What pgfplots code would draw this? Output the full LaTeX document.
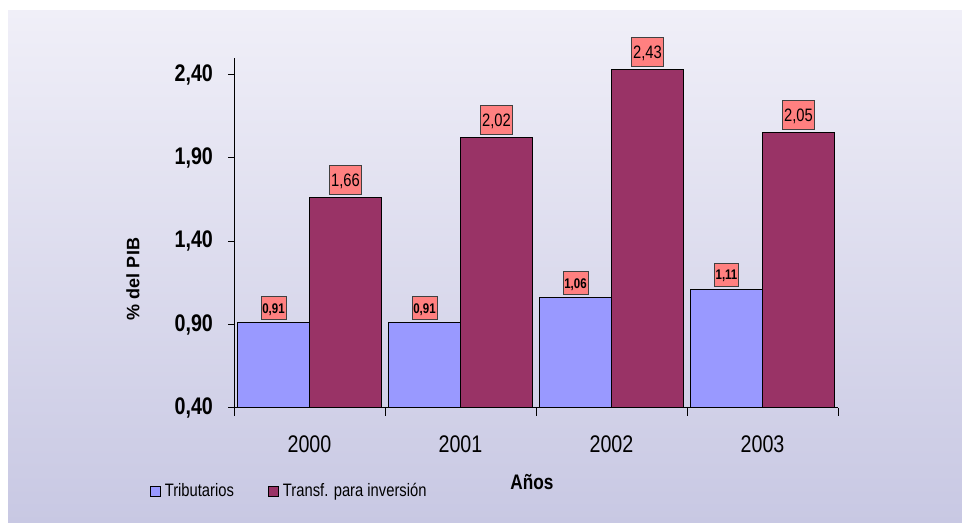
\documentclass[border=0pt]{standalone}
\usepackage{fontspec}
\setmainfont{Liberation Sans}
\newfontfamily\narrow{Liberation Sans}[FakeStretch=0.82]
\usepackage{pgfplots}
\pgfplotsset{compat=1.18}
\definecolor{tribcol}{HTML}{9999FF}
\definecolor{transcol}{HTML}{993366}
\definecolor{boxcol}{HTML}{FF8080}
\definecolor{bgtop}{HTML}{F0EFF8}
\definecolor{bgbot}{HTML}{C8C8E3}
\pgfplotsset{sqlegend/.style={legend image code/.code={\draw[##1] (0pt,-2.5pt) rectangle (5pt,2.5pt);}}}

\begin{document}
\begin{tikzpicture}
% background
\fill[white] (0,0) rectangle (481pt,261.5pt);
\shade[top color=bgtop, bottom color=bgbot] (4pt,0) rectangle (481pt,256pt);
\path[use as bounding box] (0,0) rectangle (481pt,261.5pt);

\begin{axis}[
  at={(117pt,57.5pt)}, anchor=south west,
  scale only axis, width=302pt, height=175pt,
  ybar=0pt, bar width=36pt,
  xmin=-0.5, xmax=3.5, ymin=0.4, ymax=2.5,
  axis x line*=bottom, axis y line*=left,
  axis line style={black, line width=0.5pt},
  xtick={0,1,2,3}, xticklabels={2000,2001,2002,2003},
  minor xtick={-0.5,0.5,1.5,2.5,3.5},
  ytick={0.4,0.9,1.4,1.9,2.4},
  tick align=outside,
  major x tick style={draw=none},
  minor x tick style={black, line width=0.5pt},
  y tick style={black, line width=0.5pt},
  major tick length=3pt, minor tick length=4pt,
  /pgf/number format/use comma,
  /pgf/number format/fixed,
  /pgf/number format/fixed zerofill,
  /pgf/number format/precision=2,
  /pgf/number format/assume math mode=true,
  yticklabel style={font=\narrow\bfseries\fontsize{12}{12}\selectfont, xshift=-4pt},
  xticklabel style={font=\narrow\fontsize{12}{13}\selectfont, anchor=base, yshift=-19.5pt},
  clip=false,
  legend columns=2,
  legend style={draw=none, fill=none, at={(-0.150,-0.239)}, anchor=west,
    font=\narrow\fontsize{9}{10}\selectfont,
    /tikz/every even column/.append style={column sep=15pt}},
  legend cell align=left,
]
\addplot[fill=tribcol, draw=black, line width=0.5pt, sqlegend,
  nodes near coords,
  nodes near coords style={fill=boxcol, draw=black!75, line width=0.4pt,
    font=\narrow\bfseries\fontsize{7}{7}\selectfont,
    text height=5pt, text depth=0pt, inner xsep=0.7pt, inner ysep=3.2pt,
    anchor=south, yshift=1.5pt}]
  coordinates {(0,0.91) (1,0.91) (2,1.06) (3,1.11)};
\addlegendentry{Tributarios}

\addplot[fill=transcol, draw=black, line width=0.5pt, sqlegend,
  nodes near coords,
  nodes near coords style={fill=boxcol, draw=black!75, line width=0.4pt,
    font=\narrow\fontsize{9}{9}\selectfont,
    text height=6.5pt, text depth=0pt, inner xsep=1pt, inner ysep=4pt,
    anchor=south, yshift=1.5pt}]
  coordinates {(0,1.66) (1,2.02) (2,2.43) (3,2.05)};
\addlegendentry{Transf. para inversión}
\end{axis}

\node[rotate=90, font=\bfseries\fontsize{9}{10}\selectfont] at (66.5pt,122pt) {\% del PIB};
\node[font=\narrow\bfseries\fontsize{10.5}{11}\selectfont] at (266pt,20.5pt) {Años};
\end{tikzpicture}
\end{document}
